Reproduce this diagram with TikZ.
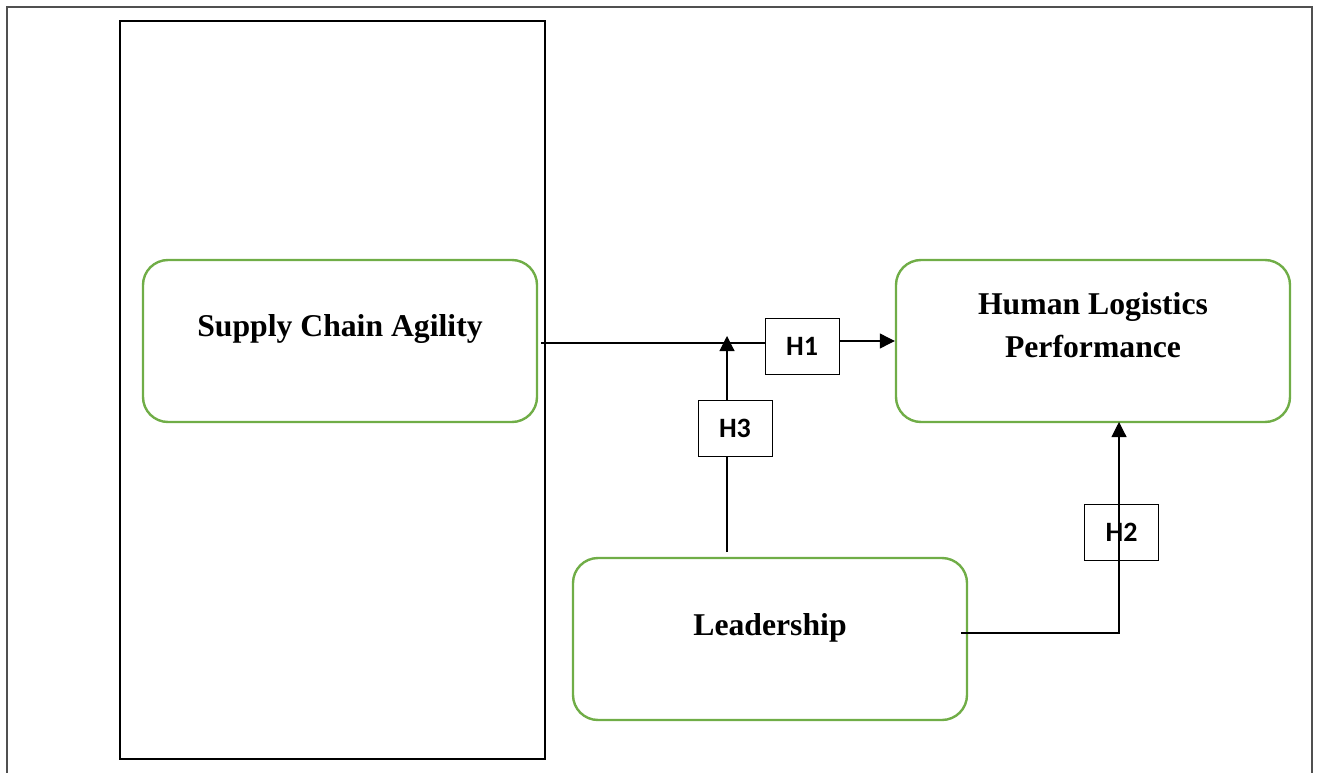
\documentclass[tikz,border=0pt]{standalone}
\usepackage{fontspec}
\setmainfont{Liberation Serif}
\newfontfamily\hfont{Carlito}
\usetikzlibrary{arrows.meta}
\definecolor{boxgreen}{HTML}{70AD47}
\definecolor{framegray}{HTML}{505050}
\begin{document}
\begin{tikzpicture}[x=1pt,y=-1pt,
  varbox/.style={draw=boxgreen,line width=2.4pt,rounded corners=25pt,minimum width=394pt,minimum height=162pt,inner sep=0pt},
  vartext/.style={font=\bfseries\fontsize{31.7}{43}\selectfont,align=center,anchor=base},
  hbox/.style={draw=black,line width=1pt,minimum width=74pt,minimum height=56pt,inner sep=0pt,font=\hfont\bfseries\fontsize{28}{30}\selectfont},
  arr/.style={draw=black,line width=1.1pt,-{Triangle[length=15pt,width=15pt]}},
  conn/.style={draw=black,line width=1.1pt}]
\useasboundingbox (0,0) rectangle (1317,773);
% outer frame
\draw[framegray,line width=1.8pt] (7,773) -- (7,7) -- (1312,7) -- (1312,773);
% inner rectangle
\node[draw=black,line width=1.1pt,minimum width=425pt,minimum height=738pt,inner sep=0pt] (panel) at (332.5,390) {};
% variable boxes
\node[varbox] (sca) at (340,341) {};
\node[vartext] at (340,336) {Supply Chain Agility};
\node[varbox] (hlp) at (1093,341) {};
\node[vartext] at (1093,357) {Human Logistics\\Performance};
\node[varbox] (lead) at (770,639) {};
\node[vartext] at (770,635) {Leadership};
% hypothesis boxes
\node[hbox] (h1) at (802,346) {H1};
\node[hbox] (h3) at (735,428) {H3};
\node[hbox] (h2) at (1121.5,532) {H2};
% coordinates
\coordinate (s1) at (541,343);
\coordinate (l3) at (727,552);
\coordinate (m3) at (727,336);
\coordinate (l2) at (961,633);
\coordinate (t2) at (1119,422);
% connectors
\draw[conn] (s1) -- (s1 -| h1.west);
\draw[arr] (h1.east |- hlp.west) -- (hlp.west);
\draw[conn] (l3) -- (l3 |- h3.south);
\draw[arr] (m3 |- h3.north) -- (m3);
\draw[arr] (l2) -| (t2);
\end{tikzpicture}
\end{document}
